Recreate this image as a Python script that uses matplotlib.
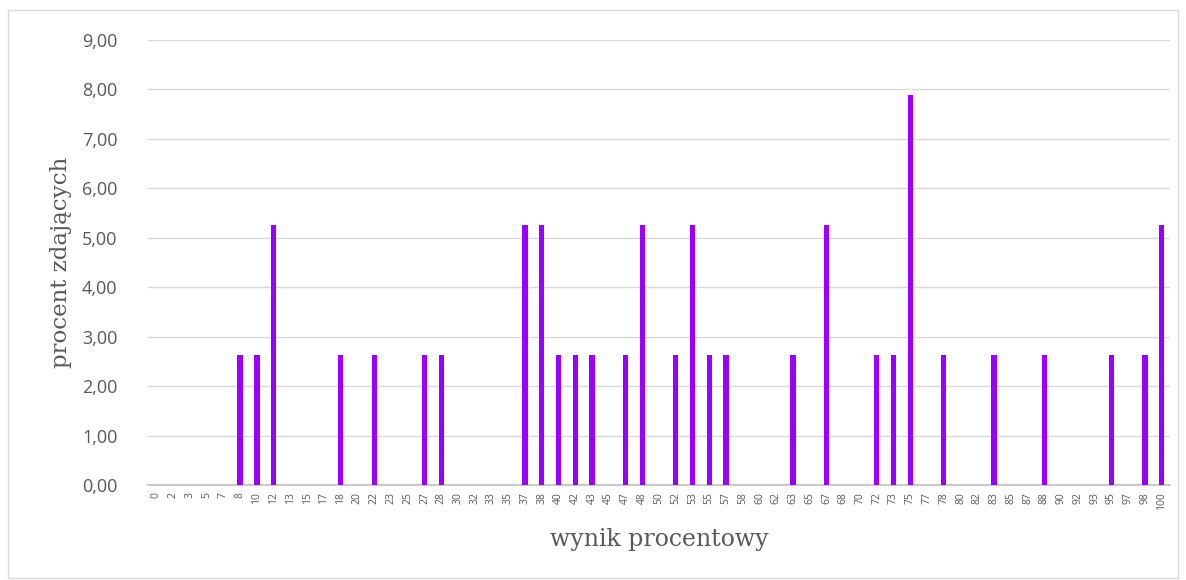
import matplotlib
matplotlib.use("Agg")
import matplotlib.pyplot as plt
from matplotlib.patches import Rectangle

categories = ["0","2","3","5","7","8","10","12","13","15","17","18","20","22","23","25","27","28","30","32",
              "33","35","37","38","40","42","43","45","47","48","50","52","53","55","57","58","60","62","63","65",
              "67","68","70","72","73","75","77","78","80","82","83","85","87","88","90","92","93","95","97","98","100"]
nonzero = {"8":2.63,"10":2.63,"12":5.26,"18":2.63,"22":2.63,"27":2.63,"28":2.63,"37":5.26,"38":5.26,
           "40":2.63,"42":2.63,"43":2.63,"47":2.63,"48":5.26,"52":2.63,"53":5.26,"55":2.63,"57":2.63,
           "63":2.63,"67":5.26,"72":2.63,"73":2.63,"75":7.89,"78":2.63,"83":2.63,"88":2.63,"95":2.63,
           "98":2.63,"100":5.26}
values = [nonzero.get(c, 0.0) for c in categories]
yticks = [0,1,2,3,4,5,6,7,8,9]

fig = plt.figure(figsize=(11.86, 5.80), dpi=100)
ax = fig.add_axes([0.1248, 0.1638, 0.8617, 0.7672])
x = list(range(len(categories)))
ax.bar(x, values, width=0.32, color="#9900FF", zorder=3)
ax.set_xlim(-0.5, len(categories)-0.5)
ax.set_ylim(0, 9)
ax.set_yticks(yticks)
ax.set_yticklabels([f"{v:.2f}".replace(".", ",") for v in yticks], fontsize=13, color="#595959", family="Open Sans")
ax.set_xticks(x)
ax.set_xticklabels(categories, rotation=90, fontsize=7.5, color="#595959", family="Open Sans")
ax.tick_params(axis="both", length=0)
ax.tick_params(axis="y", pad=22)
ax.tick_params(axis="x", pad=5)
ax.grid(axis="y", color="#D9D9D9", linewidth=1, zorder=0)
for s in ["top", "right", "left"]:
    ax.spines[s].set_visible(False)
ax.spines["bottom"].set_color("#BFBFBF")
ax.spines["bottom"].set_linewidth(1.2)
ax.set_ylabel("procent zdających", fontsize=16.5, family="DejaVu Serif", color="#595959", labelpad=7)
ax.set_xlabel("wynik procentowy", fontsize=17, family="DejaVu Serif", color="#595959", labelpad=13)
fig.patches.append(Rectangle((8/1186, 2/580), 1170/1186, 568/580, transform=fig.transFigure,
                             fill=False, edgecolor="#D9D9D9", linewidth=1))
fig.savefig("out.png", dpi=100)
